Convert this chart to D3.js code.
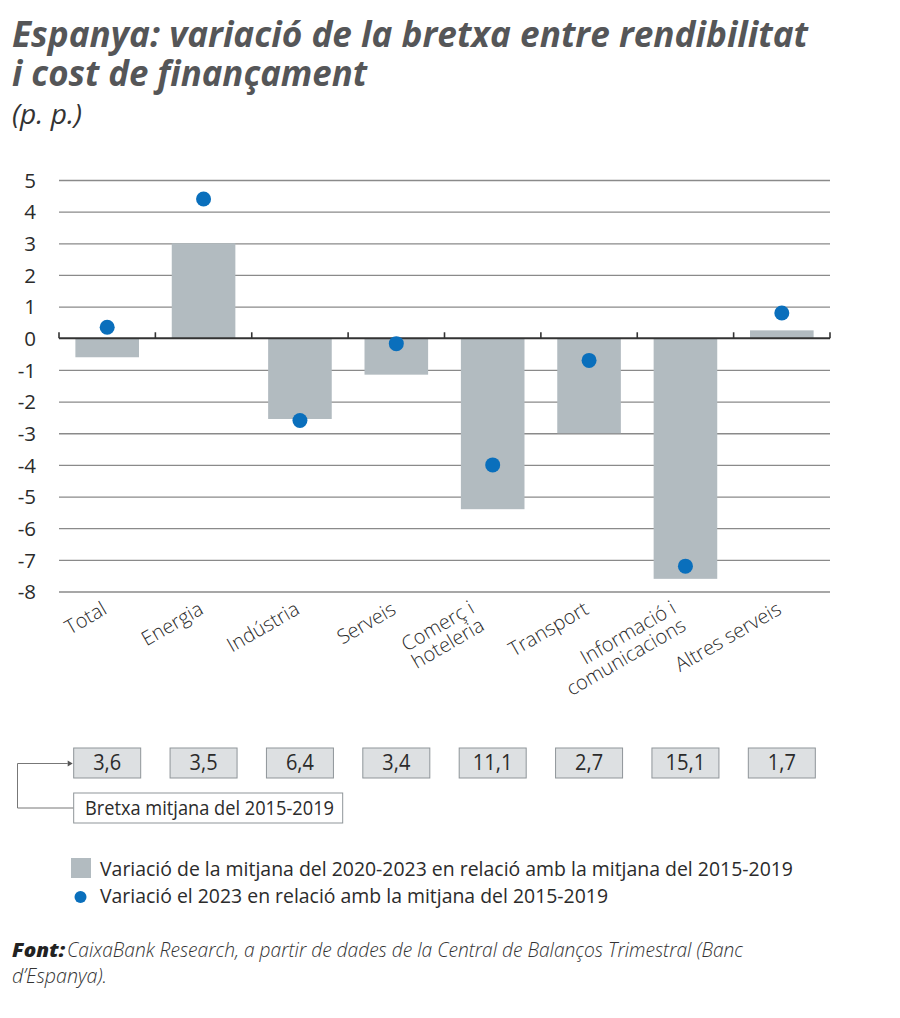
<!DOCTYPE html>
<html>
<head>
<meta charset="utf-8">
<script src="https://cdn.jsdelivr.net/npm/d3@7"></script>
<style>
  html, body { margin: 0; padding: 0; background: #fff; }
  svg { display: block; }
</style>
</head>
<body>
<script>
// ---------- DATA ----------
const categories = [
  ["Total"],
  ["Energia"],
  ["Indústria"],
  ["Serveis"],
  ["Comerç i", "hoteleria"],
  ["Transport"],
  ["Informació i", "comunicacions"],
  ["Altres serveis"]
];
const barValues = [-0.6, 3.0, -2.55, -1.15, -5.4, -3.0, -7.6, 0.25];
const dotValues = [0.35, 4.4, -2.6, -0.17, -4.0, -0.7, -7.2, 0.8];
const gapLabels = ["3,6", "3,5", "6,4", "3,4", "11,1", "2,7", "15,1", "1,7"];
const yTickValues = [5, 4, 3, 2, 1, 0, -1, -2, -3, -4, -5, -6, -7, -8];

const titleLines = ["Espanya: variació de la bretxa entre rendibilitat", "i cost de finançament"];
const subtitle = "(p. p.)";
const gapCaption = "Bretxa mitjana del 2015-2019";
const legendBar = "Variació de la mitjana del 2020-2023 en relació amb la mitjana del 2015-2019";
const legendDot = "Variació el 2023 en relació amb la mitjana del 2015-2019";
const sourceBold = "Font:";
const sourceLine1 = "CaixaBank Research, a partir de dades de la Central de Balanços Trimestral (Banc";
const sourceLine2 = "d’Espanya).";

// ---------- STYLE ----------
const W = 900, H = 1018;
const barColor = "#b2bbc0";
const dotColor = "#0a6fbc";
const gridColor = "#8a8a8a";
const textColor = "#2b2b2b";
const titleColor = "#555658";
const FONT = "'Open Sans', 'Noto Sans', sans-serif";

const svg = d3.select("body").append("svg").attr("width", W).attr("height", H);

// Title (one text element, two lines)
const title = svg.append("text")
  .attr("font-family", FONT).attr("font-weight", 700).attr("font-style", "italic")
  .attr("font-size", 36).attr("fill", titleColor);
title.append("tspan").attr("x", 12).attr("y", 47)
  .attr("textLength", 796).attr("lengthAdjust", "spacingAndGlyphs")
  .text(titleLines[0]);
title.append("tspan").attr("x", 12).attr("y", 86)
  .attr("textLength", 355).attr("lengthAdjust", "spacingAndGlyphs")
  .text(titleLines[1]);
svg.append("text").attr("x", 12).attr("y", 124)
  .attr("font-family", FONT).attr("font-style", "italic")
  .attr("font-size", 27).attr("fill", "#333")
  .attr("textLength", 70).attr("lengthAdjust", "spacingAndGlyphs")
  .text(subtitle);

// ---------- SCALES ----------
const plotLeft = 59, plotRight = 830;
const x = d3.scaleBand().domain(d3.range(categories.length)).range([plotLeft, plotRight]).padding(0);
const barW = x.bandwidth() * 0.66;
const y = d3.scaleLinear().domain([-8, 5]).range([591.5, 180]);

// Gridlines + y labels
const yAxis = d3.axisLeft(y).tickValues(yTickValues).tickSize(-(plotRight - plotLeft))
  .tickFormat(d => d3.format("d")(d).replace("−", "-"));
const gAxis = svg.append("g").attr("transform", `translate(${plotLeft},0)`).call(yAxis);
gAxis.select(".domain").remove();
gAxis.selectAll(".tick line").attr("stroke", gridColor).attr("stroke-width", 1.3)
  .attr("stroke-opacity", d => d === 0 ? 0 : 1);
gAxis.selectAll(".tick text").attr("font-family", FONT).attr("font-size", 20.5)
  .attr("fill", textColor).attr("x", -23).attr("dy", "0.35em");

// Bars
svg.append("g").selectAll("rect").data(barValues).join("rect")
  .attr("x", (d, i) => x(i) + (x.bandwidth() - barW) / 2)
  .attr("width", barW)
  .attr("y", d => y(Math.max(0, d)))
  .attr("height", d => Math.abs(y(d) - y(0)))
  .attr("fill", barColor);

// Zero axis line with ticks at band boundaries
const boundaries = d3.range(categories.length).map(i => x(i)).concat([plotRight]);
svg.append("line").attr("x1", plotLeft).attr("x2", plotRight)
  .attr("y1", y(0)).attr("y2", y(0)).attr("stroke", "#333").attr("stroke-width", 2);
svg.append("g").selectAll("line").data(boundaries).join("line")
  .attr("x1", d => d).attr("x2", d => d)
  .attr("y1", y(0)).attr("y2", y(0) - 6)
  .attr("stroke", "#333").attr("stroke-width", 1.6);

// Dots
svg.append("g").selectAll("circle").data(dotValues).join("circle")
  .attr("cx", (d, i) => x(i) + x.bandwidth() / 2)
  .attr("cy", d => y(d))
  .attr("r", 7.5)
  .attr("fill", dotColor);

// X labels (rotated)
const angle = -30;
const lab = svg.append("g");
categories.forEach((lines, i) => {
  const cx = x(i) + x.bandwidth() / 2;
  const multi = lines.length > 1;
  const ax = multi ? cx - (i === 4 ? 17 : 8) : cx + 1;
  const ay = multi ? 612 : 613;
  const t = lab.append("text")
    .attr("transform", `translate(${ax},${ay}) rotate(${angle})`)
    .attr("text-anchor", "end")
    .attr("font-family", FONT).attr("font-size", 20).attr("font-weight", 300)
    .attr("fill", textColor);
  lines.forEach((ln, k) => {
    t.append("tspan").attr("x", 0).attr("dy", k === 0 ? 0 : "1.0em").text(ln);
  });
});

// Gap boxes
const boxW = 67, boxH = 30, boxY = 748;
const gb = svg.append("g");
gapLabels.forEach((g, i) => {
  const cx = x(i) + x.bandwidth() / 2;
  gb.append("rect").attr("x", cx - boxW / 2).attr("y", boxY).attr("width", boxW).attr("height", boxH)
    .attr("fill", "#dde0e2").attr("stroke", "#8f9599").attr("stroke-width", 1);
  gb.append("text").attr("x", cx).attr("y", boxY + 22).attr("text-anchor", "middle")
    .attr("font-family", FONT).attr("font-size", 21).attr("fill", textColor)
    .attr("textLength", g.length > 3 ? 40 : 28).attr("lengthAdjust", "spacingAndGlyphs")
    .text(g);
});

// Connector and caption box
const firstBoxLeft = x(0) + x.bandwidth() / 2 - boxW / 2;
svg.append("path")
  .attr("d", `M${firstBoxLeft},808 H17.5 V763.5 H${firstBoxLeft - 6}`)
  .attr("fill", "none").attr("stroke", "#777").attr("stroke-width", 1);
svg.append("path")
  .attr("d", `M${firstBoxLeft - 6},760.5 L${firstBoxLeft - 1},763.5 L${firstBoxLeft - 6},766.5 Z`)
  .attr("fill", "#555");
svg.append("rect").attr("x", firstBoxLeft).attr("y", 793).attr("width", 269).attr("height", 30)
  .attr("fill", "#fff").attr("stroke", "#8f9599").attr("stroke-width", 1);
svg.append("text").attr("x", 85).attr("y", 815)
  .attr("font-family", FONT).attr("font-size", 20).attr("fill", textColor)
  .attr("textLength", 249).attr("lengthAdjust", "spacingAndGlyphs")
  .text(gapCaption);

// Legend
svg.append("rect").attr("x", 71).attr("y", 858).attr("width", 20).attr("height", 20).attr("fill", barColor);
svg.append("text").attr("x", 100).attr("y", 876)
  .attr("font-family", FONT).attr("font-size", 20).attr("fill", textColor)
  .attr("textLength", 693).attr("lengthAdjust", "spacingAndGlyphs")
  .text(legendBar);
svg.append("circle").attr("cx", 80.5).attr("cy", 897).attr("r", 6).attr("fill", dotColor);
svg.append("text").attr("x", 100).attr("y", 903)
  .attr("font-family", FONT).attr("font-size", 20).attr("fill", textColor)
  .attr("textLength", 508).attr("lengthAdjust", "spacingAndGlyphs")
  .text(legendDot);

// Source
svg.append("text").attr("x", 12).attr("y", 957)
  .attr("font-family", FONT).attr("font-size", 20).attr("font-weight", 800).attr("font-style", "italic")
  .attr("fill", "#222")
  .attr("textLength", 53).attr("lengthAdjust", "spacingAndGlyphs")
  .text(sourceBold);
svg.append("text").attr("x", 67).attr("y", 957)
  .attr("font-family", FONT).attr("font-size", 20).attr("font-style", "italic").attr("font-weight", 300)
  .attr("fill", "#333")
  .attr("textLength", 676).attr("lengthAdjust", "spacingAndGlyphs")
  .text(sourceLine1);
svg.append("text").attr("x", 12).attr("y", 983)
  .attr("font-family", FONT).attr("font-size", 20).attr("font-style", "italic").attr("font-weight", 300)
  .attr("fill", "#333")
  .attr("textLength", 95).attr("lengthAdjust", "spacingAndGlyphs")
  .text(sourceLine2);
</script>
</body>
</html>
